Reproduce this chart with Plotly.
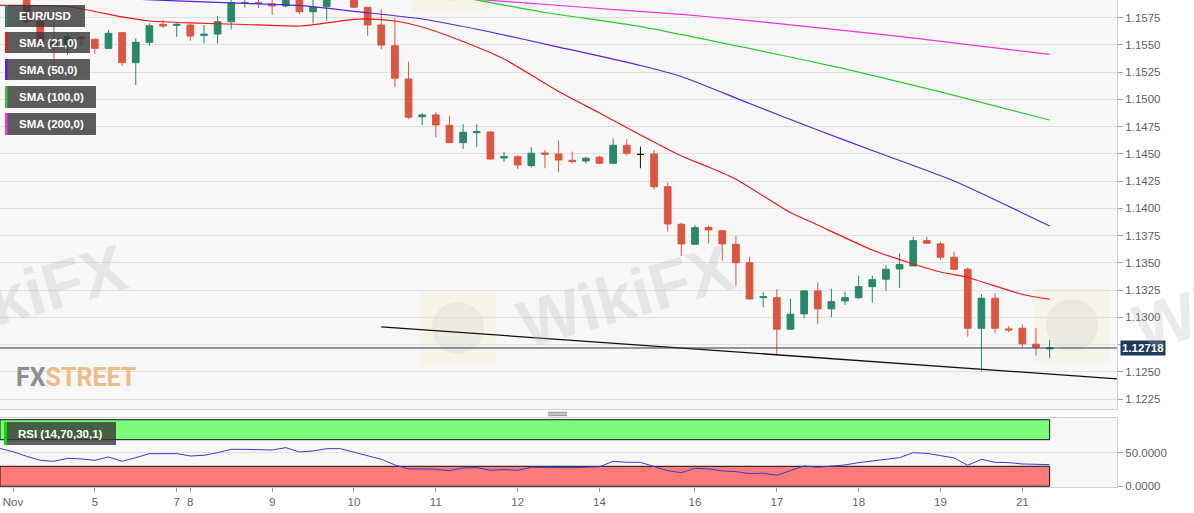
import plotly.graph_objects as go

# ---------------- data (4H EUR/USD candles, index 0 = Nov 4 00:00) ----------------
candle_idx = list(range(77))
opens = [1.16021, 1.15938, 1.15711, 1.15528, 1.15482, 1.15571, 1.15550, 1.15467, 1.15611, 1.15336,
         1.15522, 1.15687, 1.15678, 1.15681, 1.15586, 1.15598, 1.15711, 1.15880, 1.15886, 1.15874,
         1.15856, 1.15938, 1.15803, 1.15849, 1.15947, 1.15929, 1.15844, 1.15681, 1.15491, 1.15186,
         1.14840, 1.14856, 1.14761, 1.14602, 1.14693, 1.14700, 1.14461, 1.14473, 1.14391, 1.14507,
         1.14498, 1.14440, 1.14434, 1.14468, 1.14413, 1.14578, 1.14494, 1.14498, 1.14198, 1.13853,
         1.13670, 1.13825, 1.13794, 1.13670, 1.13501, 1.13180, 1.13180, 1.12890, 1.13031, 1.13242,
         1.13077, 1.13150, 1.13180, 1.13281, 1.13349, 1.13443, 1.13471, 1.13703, 1.13673, 1.13551,
         1.13440, 1.12899, 1.13175, 1.12893, 1.12899, 1.12753, 1.12710]
highs = [1.16039, 1.15957, 1.15727, 1.15711, 1.15608, 1.15580, 1.15559, 1.15635, 1.15619, 1.15559,
         1.15696, 1.15727, 1.15696, 1.15690, 1.15681, 1.15763, 1.15929, 1.15920, 1.15920, 1.15920,
         1.15957, 1.15957, 1.15929, 1.15966, 1.15966, 1.15938, 1.15848, 1.15825, 1.15742, 1.15345,
         1.14872, 1.14881, 1.14850, 1.14771, 1.14771, 1.14703, 1.14519, 1.14487, 1.14560, 1.14535,
         1.14620, 1.14519, 1.14473, 1.14480, 1.14642, 1.14633, 1.14565, 1.14535, 1.14235, 1.13868,
         1.13846, 1.13840, 1.13801, 1.13746, 1.13556, 1.13230, 1.13260, 1.13168, 1.13251, 1.13318,
         1.13260, 1.13235, 1.13382, 1.13382, 1.13480, 1.13587, 1.13739, 1.13739, 1.13694, 1.13602,
         1.13459, 1.13214, 1.13220, 1.12921, 1.12936, 1.12899, 1.12792]
lows = [1.15920, 1.15690, 1.15452, 1.15299, 1.15406, 1.15489, 1.15416, 1.15462, 1.15305, 1.15131,
        1.15489, 1.15650, 1.15573, 1.15537, 1.15513, 1.15513, 1.15641, 1.15844, 1.15835, 1.15773,
        1.15844, 1.15782, 1.15696, 1.15721, 1.15925, 1.15837, 1.15583, 1.15458, 1.15110, 1.14817,
        1.14764, 1.14651, 1.14598, 1.14544, 1.14560, 1.14449, 1.14428, 1.14361, 1.14376, 1.14367,
        1.14330, 1.14413, 1.14413, 1.14410, 1.14410, 1.14483, 1.14367, 1.14174, 1.13785, 1.13562,
        1.13663, 1.13679, 1.13519, 1.13290, 1.13165, 1.13092, 1.12646, 1.12888, 1.12991, 1.12939,
        1.13001, 1.13113, 1.13168, 1.13134, 1.13239, 1.13269, 1.13468, 1.13676, 1.13526, 1.13437,
        1.12822, 1.12501, 1.12854, 1.12863, 1.12725, 1.12648, 1.12625]
closes = [1.15938, 1.15711, 1.15528, 1.15482, 1.15573, 1.15557, 1.15467, 1.15605, 1.15336, 1.15522,
          1.15674, 1.15672, 1.15687, 1.15580, 1.15596, 1.15711, 1.15886, 1.15886, 1.15880, 1.15856,
          1.15938, 1.15803, 1.15844, 1.15947, 1.15929, 1.15844, 1.15681, 1.15497, 1.15193, 1.14835,
          1.14856, 1.14764, 1.14602, 1.14697, 1.14703, 1.14452, 1.14473, 1.14397, 1.14505, 1.14496,
          1.14443, 1.14428, 1.14459, 1.14413, 1.14578, 1.14505, 1.14494, 1.14198, 1.13856, 1.13673,
          1.13822, 1.13801, 1.13673, 1.13501, 1.13168, 1.13189, 1.12890, 1.13028, 1.13242, 1.13077,
          1.13143, 1.13180, 1.13281, 1.13345, 1.13440, 1.13483, 1.13703, 1.13679, 1.13551, 1.13440,
          1.12899, 1.13175, 1.12899, 1.12884, 1.12756, 1.12725, 1.12718]

sma21_idx = [-1, 4, 8, 10, 13, 17, 21, 23, 25, 26, 28, 30, 33, 36, 40, 43, 46, 49, 51, 53, 57, 59, 63, 66, 68, 70, 74, 76]
sma21_val = [1.15861, 1.15851, 1.15755, 1.15718, 1.15700, 1.15686, 1.15672, 1.15700, 1.15732, 1.15737,
             1.15718, 1.15663, 1.15530, 1.15369, 1.15071, 1.14874, 1.14672, 1.14479, 1.14378, 1.14266,
             1.13961, 1.13846, 1.13617, 1.13489, 1.13415, 1.13365, 1.13209, 1.13167]
sma50_idx = [5, 12, 17, 21, 25, 30, 35, 40, 46, 49, 54, 59, 63, 69, 76]
sma50_val = [1.15938, 1.15903, 1.15880, 1.15861, 1.15806, 1.15736, 1.15617, 1.15479, 1.15310, 1.15209,
             1.14961, 1.14718, 1.14530, 1.14250, 1.13837]
sma100_idx = [30, 34, 39, 46, 54, 61, 68, 76]
sma100_val = [1.15984, 1.15910, 1.15796, 1.15667, 1.15466, 1.15278, 1.15067, 1.14810]
sma200_idx = [33, 42, 49, 54, 65, 76]
sma200_val = [1.15926, 1.15842, 1.15779, 1.15721, 1.15576, 1.15412]

trend_idx = [27, 81]
trend_val = [1.12912, 1.12435]

rsi_idx = list(range(-1, 77))
rsi_val = [57, 52, 45, 39, 37.5, 42, 41, 39, 44, 37.5, 43, 49, 49, 49, 45.5, 46.5, 50.5, 55.5, 55.5, 55.3,
           54.5, 58, 51.5, 53, 56.5, 56.5, 51.5, 46, 40.5, 32, 26, 26, 25.5, 23.4, 27.4, 28, 24, 25, 24,
           28.5, 28, 27.5, 28, 28.5, 29.4, 37.5, 36, 36, 29.4, 23.4, 20.4, 27, 26, 23, 22, 19, 19.5, 16.5,
           23.4, 30.5, 28.5, 30.5, 32, 35.5, 38, 41.5, 43, 50.5, 49.5, 46, 42.5, 31.5, 40.5, 36, 35.5,
           33.5, 32.5, 32.5]
rsi_overbought = 70
rsi_oversold = 30
rsi_max = 100
rsi_min = 0

x_tick_idx = [0, 6, 12, 13, 19, 25, 31, 37, 43, 50, 56, 62, 68, 74]
x_tick_text = ["Nov", "5", "7", "8", "9", "10", "11", "12", "14", "16", "17", "18", "19", "21"]
y_ticks = [1.1225, 1.1250, 1.1275, 1.1300, 1.1325, 1.1350, 1.1375, 1.1400, 1.1425, 1.1450,
           1.1475, 1.1500, 1.1525, 1.1550, 1.1575]
rsi_ticks = [0, 50]

legend_labels = ["EUR/USD", "SMA (21,0)", "SMA (50,0)", "SMA (100,0)", "SMA (200,0)"]
rsi_label = "RSI (14,70,30,1)"

# ---------------- styles ----------------
RED = "#da5640"
GREEN = "#29876c"
C21, C50, C100, C200 = "#f01818", "#5a23d8", "#2ccc2c", "#ee33ee"
NAVY = "#1d3b5c"
FONT = "Liberation Sans, Arial, sans-serif"

PLOT_W, PLOT_H = 1117.0, 487.0


def px(xp):
    return xp / PLOT_W


def py(yp):
    return (PLOT_H - yp) / PLOT_H


X_RANGE = [-0.953, 80.94]

last_close = closes[-1]
last_idx = candle_idx[-1]

# tick labels of the price axis; the one hidden behind the live-price tag is left blank
y_tick_text = ["" if abs(v - last_close) < 0.0006 else "%.4f" % v for v in y_ticks]

fig = go.Figure()

regular = [i for i in candle_idx if opens[i] != closes[i]]
doji = [i for i in candle_idx if opens[i] == closes[i]]

fig.add_trace(go.Candlestick(
    x=regular, open=[opens[i] for i in regular], high=[highs[i] for i in regular],
    low=[lows[i] for i in regular], close=[closes[i] for i in regular],
    increasing=dict(line=dict(color=GREEN, width=1), fillcolor=GREEN),
    decreasing=dict(line=dict(color=RED, width=1), fillcolor=RED),
    whiskerwidth=0, xaxis="x", yaxis="y", showlegend=False))
fig.add_trace(go.Candlestick(
    x=doji, open=[opens[i] for i in doji], high=[highs[i] for i in doji],
    low=[lows[i] for i in doji], close=[closes[i] for i in doji],
    increasing=dict(line=dict(color="#111111", width=1), fillcolor="#111111"),
    decreasing=dict(line=dict(color="#111111", width=1), fillcolor="#111111"),
    whiskerwidth=0, xaxis="x", yaxis="y", showlegend=False))

for ix, vals, col in [(sma200_idx, sma200_val, C200), (sma100_idx, sma100_val, C100),
                      (sma50_idx, sma50_val, C50), (sma21_idx, sma21_val, C21)]:
    fig.add_trace(go.Scatter(x=ix, y=vals, mode="lines", xaxis="x", yaxis="y",
                             line=dict(color=col, width=1.2, shape="spline", smoothing=0.6),
                             showlegend=False, hoverinfo="skip"))

fig.add_trace(go.Scatter(x=trend_idx, y=trend_val, mode="lines", xaxis="x", yaxis="y",
                         line=dict(color="#111111", width=1.3), showlegend=False, hoverinfo="skip"))

fig.add_trace(go.Scatter(x=rsi_idx, y=rsi_val, mode="lines", xaxis="x2", yaxis="y2",
                         line=dict(color="#3b3bd2", width=1), showlegend=False))

shapes = []
# RSI bands
shapes.append(dict(type="rect", xref="x2", yref="y2", x0=X_RANGE[0], x1=last_idx,
                   y0=rsi_overbought, y1=rsi_max, fillcolor="#7dfb7d",
                   line=dict(color="#111111", width=1), layer="between"))
shapes.append(dict(type="rect", xref="x2", yref="y2", x0=X_RANGE[0], x1=last_idx,
                   y0=rsi_min, y1=rsi_oversold, fillcolor="#fb7b7b",
                   line=dict(color="#111111", width=1), layer="between"))
# current price line
shapes.append(dict(type="line", xref="paper", yref="y", x0=0, x1=1, y0=last_close, y1=last_close,
                   line=dict(color=NAVY, width=1), layer="above"))

# faint watermark logos
for (cx, cy) in [(458, 328), (1072, 325), (450, -25)]:
    shapes.append(dict(type="rect", xref="paper", yref="paper", x0=px(cx - 38), x1=px(cx + 38),
                       y0=py(cy + 38), y1=py(cy - 38), fillcolor="rgba(245,222,160,0.16)",
                       line=dict(width=0), layer="below"))
    shapes.append(dict(type="circle", xref="paper", yref="paper", x0=px(cx - 26), x1=px(cx + 26),
                       y0=py(cy + 26), y1=py(cy - 26), fillcolor="rgba(150,150,150,0.10)",
                       line=dict(width=0), layer="below"))

# legend boxes
legend_geom = [(5, 85, 5, 27, GREEN), (5, 90, 32, 53, C21), (5, 90, 59, 80, C50),
               (5, 96, 86, 108, C100), (5, 96, 113, 135, C200)]
annotations = []
for label, (x0, x1, y0, y1, col) in zip(legend_labels, legend_geom):
    shapes.append(dict(type="rect", xref="paper", yref="paper", x0=px(x0), x1=px(x1),
                       y0=py(y1), y1=py(y0), fillcolor="rgba(52,52,52,0.8)", line=dict(width=0),
                       layer="above"))
    shapes.append(dict(type="rect", xref="paper", yref="paper", x0=px(x0), x1=px(x0 + 2.5),
                       y0=py(y1), y1=py(y0), fillcolor=col, line=dict(width=0), layer="above"))
    annotations.append(dict(xref="paper", yref="paper", x=px(17), y=py((y0 + y1) / 2),
                            xanchor="left", yanchor="middle", showarrow=False,
                            text="<b>%s</b>" % label,
                            font=dict(family=FONT, size=11.5, color="white")))
# RSI legend
shapes.append(dict(type="rect", xref="paper", yref="paper", x0=px(4), x1=px(116),
                   y0=py(445), y1=py(422), fillcolor="rgba(52,52,52,0.78)", line=dict(width=0),
                   layer="above"))
shapes.append(dict(type="rect", xref="paper", yref="paper", x0=px(4), x1=px(7),
                   y0=py(445), y1=py(422), fillcolor="#00dd00", line=dict(width=0), layer="above"))
annotations.append(dict(xref="paper", yref="paper", x=px(16), y=py(433.5), xanchor="left",
                        yanchor="middle", showarrow=False, text="<b>%s</b>" % rsi_label,
                        font=dict(family=FONT, size=11.5, color="white")))

# drag handle between panes
for yy in (412.3, 414.0, 415.7):
    shapes.append(dict(type="line", xref="paper", yref="paper", x0=px(548), x1=px(567),
                       y0=py(yy), y1=py(yy), line=dict(color="#8a8a8a", width=1)))

# current price label
annotations.append(dict(xref="paper", yref="y", x=1, y=last_close, xanchor="left", xshift=3,
                        yanchor="middle", showarrow=False, text="<b>%.5f</b>" % last_close,
                        bgcolor=NAVY, borderpad=1,
                        font=dict(family=FONT, size=11.5, color="white")))

# WikiFX watermarks
for (cx, cy) in [(18, 296), (625, 296), (1240, 300)]:
    annotations.append(dict(xref="paper", yref="paper", x=px(cx), y=py(cy), xanchor="center",
                            yanchor="middle", showarrow=False, text="<b>WikiFX</b>", textangle=-16,
                            font=dict(family=FONT, size=66, color="rgba(175,175,175,0.25)")))

# FXStreet logo
annotations.append(dict(xref="paper", yref="paper", x=px(14), y=py(377), xanchor="left",
                        yanchor="middle", showarrow=False,
                        text="<b>FX</b><b><span style='color:#efbd84'>STREET</span></b>",
                        font=dict(family="Roboto, Liberation Sans, sans-serif",
                                  size=25, color="#8f8f8f")))

axis_common = dict(showline=True, linecolor="#cfcfcf", mirror=True, zeroline=False)

fig.update_layout(
    width=1194, height=513,
    margin=dict(l=0, r=77, t=0, b=26),
    paper_bgcolor="white", plot_bgcolor="#f7f7f7",
    showlegend=False,
    font=dict(family=FONT, size=11.5, color="#666666"),
    xaxis=dict(domain=[0, 1], anchor="y", range=X_RANGE, showticklabels=False, ticks="",
               showgrid=False, rangeslider=dict(visible=False), **axis_common),
    yaxis=dict(domain=[(PLOT_H - 409) / PLOT_H, 1], anchor="x", side="right",
               range=[1.121583, 1.159106], tickvals=y_ticks, ticktext=y_tick_text, ticks="outside",
               ticklen=5, tickcolor="#a0a0a0", gridcolor="#e0e0e0",
               tickfont=dict(size=11.5, color="#5f5f5f"), **axis_common),
    xaxis2=dict(domain=[0, 1], anchor="y2", matches="x", range=X_RANGE, tickvals=x_tick_idx,
                ticktext=x_tick_text, ticks="outside", ticklen=4, tickcolor="#a0a0a0",
                showgrid=False, tickfont=dict(size=11.5, color="#666666"), **axis_common),
    yaxis2=dict(domain=[0, (PLOT_H - 418) / PLOT_H], anchor="x2", side="right",
                range=[-1.13, 102.6], tickvals=rsi_ticks, tickformat=".4f", ticks="outside",
                ticklen=5, tickcolor="#a0a0a0", gridcolor="#e0e0e0",
                tickfont=dict(size=11.5, color="#5f5f5f"), **axis_common),
    shapes=shapes,
    annotations=annotations,
)

fig.write_html("out.html", config={"displayModeBar": False},
               post_script="document.body.style.margin='0';")
